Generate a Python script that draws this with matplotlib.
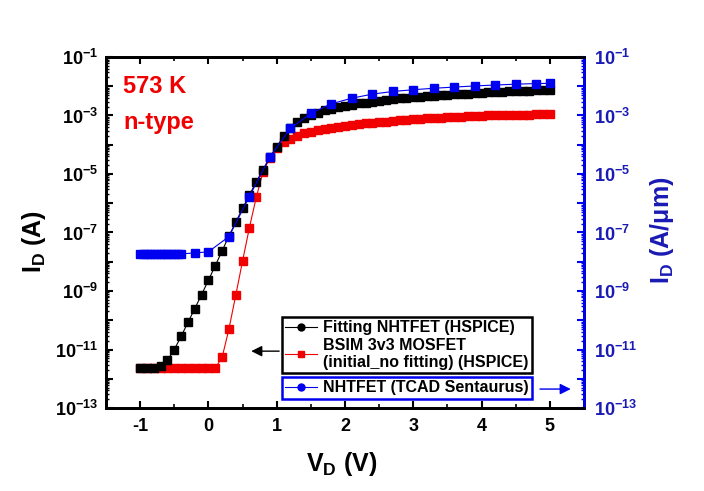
import matplotlib
matplotlib.use("Agg")
import matplotlib.pyplot as plt
import numpy as np
from matplotlib.ticker import LogLocator, FixedLocator, FuncFormatter, MultipleLocator, NullFormatter
from matplotlib.lines import Line2D

plt.rcParams['font.family'] = ['Liberation Sans', 'DejaVu Sans']
plt.rcParams['font.weight'] = 'bold'
plt.rcParams['axes.labelweight'] = 'bold'
plt.rcParams['axes.unicode_minus'] = False
plt.rcParams['mathtext.fontset'] = 'custom'
plt.rcParams['mathtext.rm'] = 'Liberation Sans:bold'
plt.rcParams['mathtext.it'] = 'Liberation Sans:bold'
plt.rcParams['mathtext.bf'] = 'Liberation Sans:bold'
plt.rcParams['mathtext.default'] = 'bf'

# Drain voltage grid for HSPICE curves (0.1 V step)
vd_hspice = [round(-1.0 + 0.1 * i, 1) for i in range(61)]

# log10(I_D) for fitted NHTFET (HSPICE)
log_fit = [-11.63, -11.63, -11.62, -11.55, -11.36, -11.00, -10.55, -10.07, -9.60, -9.12,
           -8.63, -8.13, -7.63, -7.12, -6.65, -6.17, -5.72, -5.27, -4.85, -4.43,
           -4.07, -3.70, -3.44, -3.24, -3.09, -2.98, -2.90, -2.83, -2.77, -2.72,
           -2.67, -2.63, -2.59, -2.56, -2.53, -2.50, -2.47, -2.45, -2.42, -2.40,
           -2.38, -2.36, -2.34, -2.32, -2.31, -2.29, -2.28, -2.26, -2.25, -2.23,
           -2.22, -2.21, -2.20, -2.19, -2.18, -2.17, -2.16, -2.15, -2.14, -2.14,
           -2.13]

# log10(I_D) for BSIM 3v3 MOSFET, no fitting (HSPICE)
log_bsim = [-11.63, -11.63, -11.63, -11.63, -11.63, -11.63, -11.63, -11.63, -11.63, -11.63,
            -11.63, -11.63, -11.27, -10.30, -9.14, -7.97, -6.83, -5.80, -4.92, -4.45,
            -4.12, -3.92, -3.79, -3.69, -3.61, -3.55, -3.50, -3.46, -3.42, -3.38,
            -3.35, -3.32, -3.30, -3.27, -3.25, -3.23, -3.21, -3.19, -3.17, -3.15,
            -3.13, -3.12, -3.10, -3.09, -3.07, -3.06, -3.05, -3.04, -3.03, -3.02,
            -3.01, -3.00, -2.99, -2.99, -2.98, -2.98, -2.97, -2.97, -2.96, -2.96,
            -2.95]

# TCAD Sentaurus NHTFET (A/um)
vd_tcad = [-1.0, -0.95, -0.9, -0.85, -0.8, -0.75, -0.7, -0.65, -0.6, -0.55, -0.5, -0.45, -0.4,
           -0.2, 0.0, 0.3, 0.6, 0.9, 1.2, 1.5, 1.8, 2.1, 2.4, 2.7, 3.0, 3.3, 3.6,
           3.9, 4.2, 4.5, 4.8, 5.0]
log_tcad = [-7.73, -7.73, -7.73, -7.73, -7.73, -7.73, -7.73, -7.73, -7.73, -7.73, -7.73, -7.73, -7.73,
            -7.70, -7.66, -7.14, -5.77, -4.41, -3.44, -2.93, -2.60, -2.41, -2.27, -2.18, -2.12, -2.07, -2.03,
            -1.99, -1.96, -1.93, -1.91, -1.90]

blue = '#0000f0'
blue_txt = '#1a1ab4'
red = '#f00000'

fig = plt.figure(figsize=(7.04, 4.91), dpi=100)
ax = fig.add_axes([0.1506, 0.169, 0.679, 0.715])
ax2 = ax.twinx()

ax.plot(vd_hspice, 10.0 ** np.array(log_fit), 's-', color='black', ms=5.5, lw=0.8, zorder=3)
ax.plot(vd_hspice, 10.0 ** np.array(log_bsim), 's-', color=red, ms=5.5, lw=0.8, zorder=2)
ax2.plot(vd_tcad, 10.0 ** np.array(log_tcad), 's-', color=blue, ms=5.5, lw=0.8)

minor_pos = [m * 10.0 ** e for e in range(-13, -1) for m in range(2, 10)]
for a in (ax, ax2):
    a.set_yscale('log')
    a.set_ylim(1e-13, 1e-1)
    a.yaxis.set_major_locator(LogLocator(base=10, numticks=20))
    a.yaxis.set_minor_locator(FixedLocator(minor_pos))
    a.yaxis.set_minor_formatter(NullFormatter())
    a.yaxis.set_major_formatter(FuncFormatter(
        lambda v, p: r'$\mathbf{10^{%d}}$' % round(np.log10(v)) if round(np.log10(v)) % 2 else ''))

ax.set_xlim(-1.5, 5.5)
ax.xaxis.set_major_locator(MultipleLocator(1))
ax.xaxis.set_minor_locator(MultipleLocator(0.5))

ax.tick_params(axis='x', which='both', direction='in', top=True, labelsize=13, pad=7)
ax.tick_params(axis='x', which='major', length=5, width=1.5)
ax.tick_params(axis='x', which='minor', length=3, width=1.2)
ax.tick_params(axis='y', which='major', direction='in', length=5, width=1.5, labelsize=13, pad=6)
ax.tick_params(axis='y', which='minor', direction='in', length=2.5, width=1)
ax2.tick_params(axis='y', which='major', direction='in', length=5, width=1.5, labelsize=13,
                pad=7, colors=blue, labelcolor=blue_txt)
ax2.tick_params(axis='y', which='minor', direction='in', length=2.5, width=1, colors=blue)

for s in ax.spines.values():
    s.set_linewidth(2)
for s in ax2.spines.values():
    s.set_linewidth(2)
ax2.spines['right'].set_color(blue)

ax.set_xlabel('V$_{D}$ (V)', fontsize=18, fontweight='bold')
ax.set_ylabel('I$_{D}$ (A)', fontsize=18, fontweight='bold')
ax2.set_ylabel('I$_{D}$ (A/μm)', fontsize=18, fontweight='bold', color=blue_txt)
ax.xaxis.set_label_coords(0.494, -0.12)
ax.yaxis.set_label_coords(-0.121, 0.473)
ax2.yaxis.set_label_coords(1.134, 0.507)

ax.text(0.036, 0.897, '573 K', transform=ax.transAxes, color=red, fontsize=17, va='baseline')
ax.text(0.036, 0.795, 'n-type', transform=ax.transAxes, color=red, fontsize=17, va='baseline')

h1 = [Line2D([], [], color='black', marker='o', ms=5, lw=0.8),
      Line2D([], [], color=red, marker='s', ms=5, lw=0.8)]
leg1 = ax2.legend(h1, ['Fitting NHTFET (HSPICE)', 'BSIM 3v3 MOSFET\n(initial_no fitting) (HSPICE)'],
                  loc='upper left', bbox_to_anchor=(0.368, 0.259), borderaxespad=0,
                  fontsize=11.5, fancybox=False, framealpha=1, edgecolor='black',
                  handlelength=2.0, handletextpad=0.4, borderpad=0.2, labelspacing=0.15)
leg1.get_frame().set_linewidth(1.8)
leg1.set_zorder(5)
ax2.add_artist(leg1)

h2 = [Line2D([], [], color=blue, marker='o', ms=5, lw=0.8)]
leg2 = ax2.legend(h2, ['NHTFET (TCAD Sentaurus)'], loc='upper left', bbox_to_anchor=(0.368, 0.088),
                  borderaxespad=0, fontsize=11.5, fancybox=False, framealpha=1, edgecolor=blue,
                  handlelength=2.0, handletextpad=0.4, borderpad=0.2)
leg2.get_frame().set_linewidth(1.8)
leg2.set_zorder(5)

ax2.annotate('', xy=(0.298, 0.162), xytext=(0.368, 0.162), xycoords='axes fraction',
             arrowprops=dict(arrowstyle='-|>', color='black', lw=1, mutation_scale=16), zorder=6)
ax2.annotate('', xy=(0.978, 0.054), xytext=(0.902, 0.054), xycoords='axes fraction',
             arrowprops=dict(arrowstyle='-|>', color=blue, lw=1, mutation_scale=16), zorder=6)

fig.savefig('out.png', dpi=100)
